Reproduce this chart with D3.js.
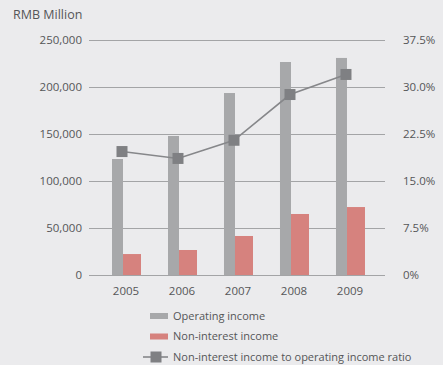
<!DOCTYPE html>
<html>
<head>
<meta charset="utf-8">
<script src="https://cdn.jsdelivr.net/npm/d3@7"></script>
<style>
body { margin: 0; background: #ebebed; }
svg { display: block; font-family: "Open Sans", "Noto Sans", sans-serif; }
</style>
</head>
<body>
<svg class="chart" width="443" height="365"></svg>
<script>
var years = ["2005", "2006", "2007", "2008", "2009"];
var operatingIncome = [123400, 147900, 193600, 226600, 230900];
var nonInterestIncome = [22300, 26600, 41500, 64900, 72300];
var ratio = [19.7, 18.6, 21.5, 28.8, 32.0];
var leftTicks = [0, 50000, 100000, 150000, 200000, 250000];
var rightTicks = [0, 7.5, 15, 22.5, 30, 37.5];

var textColor = "#555658";

var svg = d3.select(".chart");

var x = d3.scaleBand().domain(years).range([112, 370.7]).paddingInner(0.38).paddingOuter(0);
var yLeft = d3.scaleLinear().domain([0, 250000]).range([275, 40]);
var yRight = d3.scaleLinear().domain([0, 37.5]).range([275, 40]);

// grid lines
svg.selectAll("line.grid")
    .data(leftTicks)
    .enter().append("line")
    .attr("class", "grid")
    .attr("x1", 89).attr("x2", 385)
    .attr("y1", function (d) { return yLeft(d) + 0.5; })
    .attr("y2", function (d) { return yLeft(d) + 0.5; })
    .attr("stroke", "#a3a4a6")
    .attr("stroke-width", 1);

// left axis labels
svg.selectAll("text.left")
    .data(leftTicks)
    .enter().append("text")
    .attr("x", 82)
    .attr("y", function (d) { return yLeft(d); })
    .attr("dy", "0.35em")
    .attr("text-anchor", "end")
    .attr("font-size", 11.5)
    .attr("fill", textColor)
    .text(function (d) { return d3.format(",")(d); });

// right axis labels
svg.selectAll("text.right")
    .data(rightTicks)
    .enter().append("text")
    .attr("x", 403)
    .attr("y", function (d) { return yRight(d); })
    .attr("dy", "0.35em")
    .attr("font-size", 11.5)
    .attr("fill", textColor)
    .text(function (d) { return d === 0 ? "0%" : d3.format(".1f")(d) + "%"; });

svg.append("text")
    .attr("x", 13).attr("y", 15)
    .attr("dy", "0.35em")
    .attr("font-size", 12.5)
    .attr("fill", textColor)
    .text("RMB Million");

var opWidth = 11, nonWidth = 18;

svg.selectAll("rect.op")
    .data(years)
    .enter().append("rect")
    .attr("x", function (d) { return x(d); })
    .attr("y", function (d, i) { return yLeft(operatingIncome[i]); })
    .attr("width", opWidth)
    .attr("height", function (d, i) { return yLeft(0) - yLeft(operatingIncome[i]); })
    .attr("fill", "#a7a8aa");

svg.selectAll("rect.non")
    .data(years)
    .enter().append("rect")
    .attr("x", function (d) { return x(d) + opWidth; })
    .attr("y", function (d, i) { return yLeft(nonInterestIncome[i]); })
    .attr("width", nonWidth)
    .attr("height", function (d, i) { return yLeft(0) - yLeft(nonInterestIncome[i]); })
    .attr("fill", "#d6827e");

// baseline over bars
svg.append("line")
    .attr("x1", 89).attr("x2", 385)
    .attr("y1", yLeft(0) + 0.5).attr("y2", yLeft(0) + 0.5)
    .attr("stroke", "#a3a4a6");

// ratio line
var lineX = function (d) { return x(d) + opWidth - 1; };
var line = d3.line()
    .x(function (d, i) { return lineX(years[i]); })
    .y(function (d) { return yRight(d); });

svg.append("path")
    .attr("d", line(ratio))
    .attr("fill", "none")
    .attr("stroke", "#86878a")
    .attr("stroke-width", 1.6);

svg.selectAll("rect.marker")
    .data(ratio)
    .enter().append("rect")
    .attr("x", function (d, i) { return lineX(years[i]) - 5.5; })
    .attr("y", function (d) { return yRight(d) - 5.5; })
    .attr("width", 11).attr("height", 11)
    .attr("fill", "#7f8083");

// year labels
svg.selectAll("text.year")
    .data(years)
    .enter().append("text")
    .attr("x", function (d) { return x(d) + 14; })
    .attr("y", 291)
    .attr("dy", "0.35em")
    .attr("text-anchor", "middle")
    .attr("font-size", 11.5)
    .attr("fill", textColor)
    .text(function (d) { return d; });

// legend
var legend = [
    {name: "Operating income", color: "#a7a8aa", type: "bar"},
    {name: "Non-interest income", color: "#d6827e", type: "bar"},
    {name: "Non-interest income to operating income ratio", color: "#7f8083", type: "line"}
];

var lg = svg.selectAll("g.legend")
    .data(legend)
    .enter().append("g")
    .attr("transform", function (d, i) { return "translate(0," + (316 + i * 20.5) + ")"; });

lg.filter(function (d) { return d.type === "bar"; })
    .append("rect")
    .attr("x", 150).attr("y", -3)
    .attr("width", 18).attr("height", 6)
    .attr("fill", function (d) { return d.color; });

var ll = lg.filter(function (d) { return d.type === "line"; });
ll.append("line")
    .attr("x1", 143).attr("x2", 168)
    .attr("y1", 0).attr("y2", 0)
    .attr("stroke", "#86878a").attr("stroke-width", 1.6);
ll.append("rect")
    .attr("x", 150.5).attr("y", -5.5)
    .attr("width", 11).attr("height", 11)
    .attr("fill", function (d) { return d.color; });

lg.append("text")
    .attr("x", 173).attr("y", 0)
    .attr("dy", "0.35em")
    .attr("font-size", 11)
    .attr("fill", textColor)
    .text(function (d) { return d.name; });
</script>
</body>
</html>
